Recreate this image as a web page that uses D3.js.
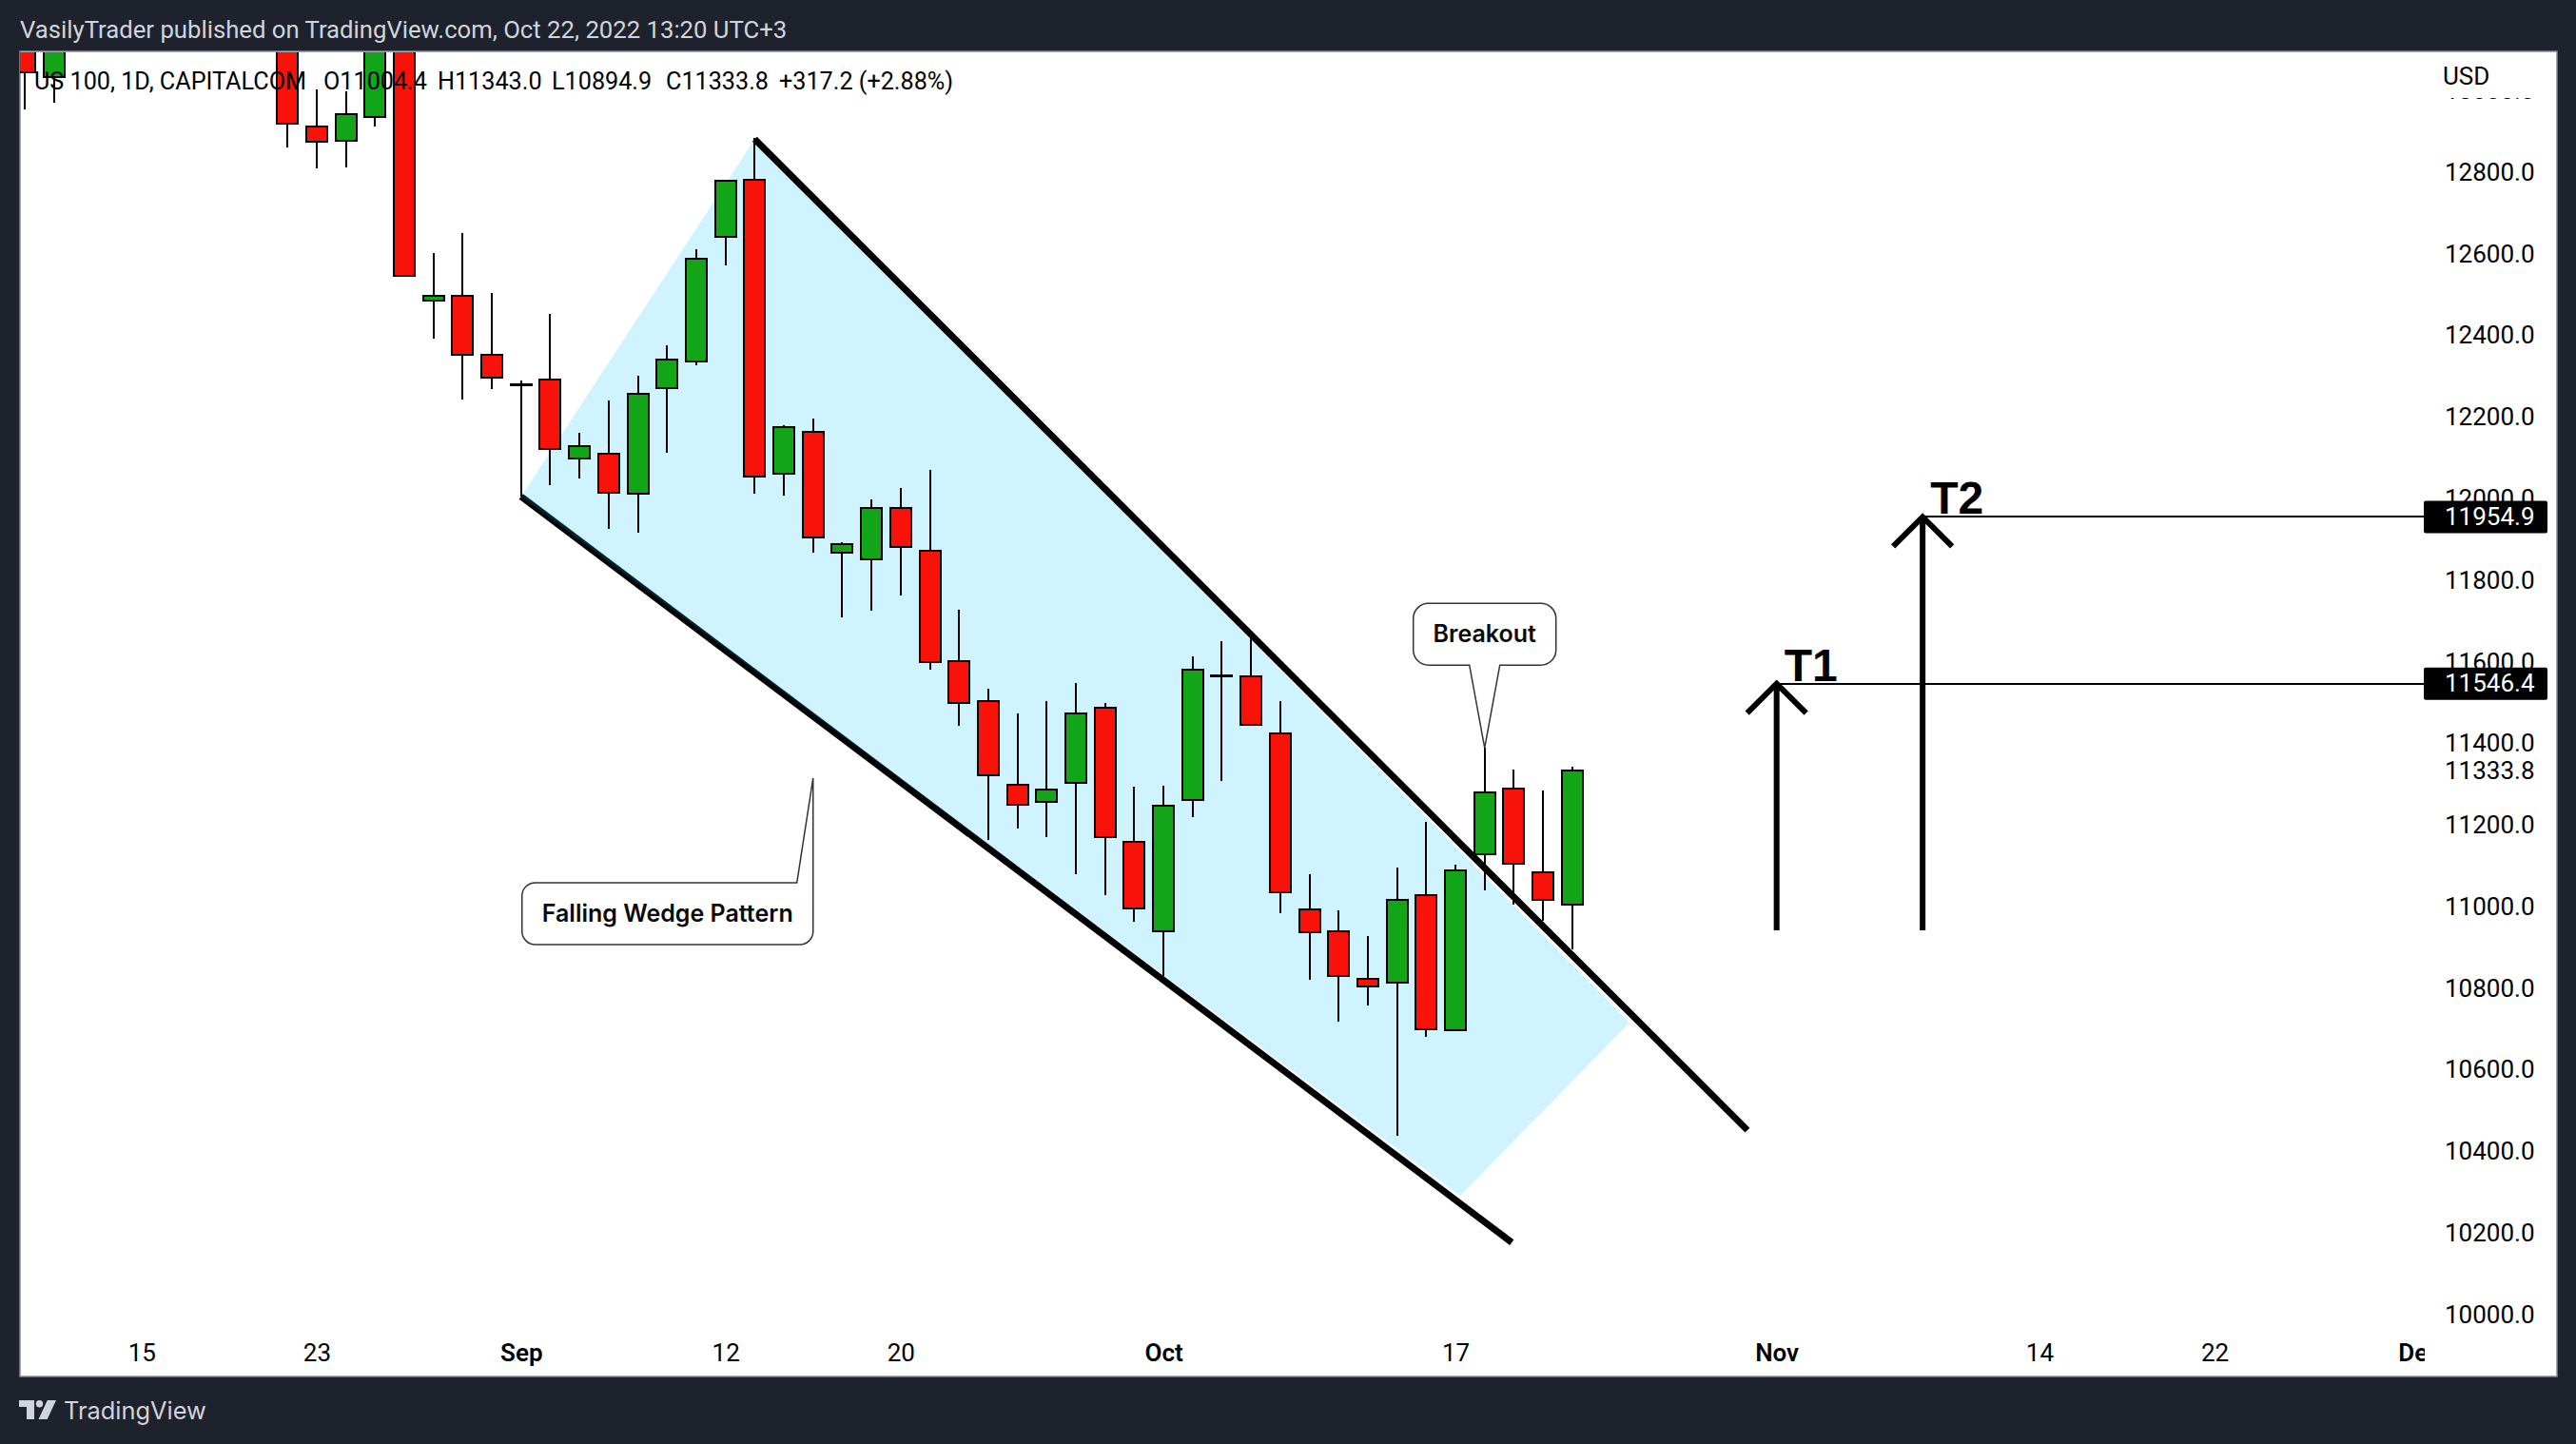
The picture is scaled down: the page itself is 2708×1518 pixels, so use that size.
<!DOCTYPE html>
<html>
<head>
<meta charset="utf-8">
<script src="https://d3js.org/d3.v7.min.js"></script>
<style>
  html, body { margin: 0; padding: 0; background: #1e222d; }
  svg { display: block; }
  text { font-family: Roboto, sans-serif; }
</style>
</head>
<body>
<svg id="chart" width="2708" height="1518"></svg>
<script>
// daily bars, index counted in trading days from Sep 1 (bars above the chart top are left out)
const barIdx = [-17, -16, -8, -7, -6, -5, -4, -3, -2, -1, 0, 1, 2, 3, 4, 5, 6, 7, 8, 9, 10, 11, 12, 13, 14, 15, 16, 17, 18, 19, 20, 21, 22, 23, 24, 25, 26, 27, 28, 29, 30, 31, 32, 33, 34, 35, 36];
const opens = [13250, 13033, 13200, 12911, 12876, 12935, 13200, 12485, 12497, 12352, 12280, 12291, 12098, 12110, 12012, 12270, 12336, 12641, 12781, 12061, 12163, 11867, 11851, 11977, 11872, 11601, 11503, 11298, 11256, 11303, 11487, 11159, 10939, 11261, 11566, 11564, 11424, 10993, 10939, 10823, 10814, 11028, 10697, 11128, 11289, 11084, 11004.4];
const highs = [13300, 13300, 13250, 13002, 12998, 13300, 13250, 12601, 12650, 12503, 12289, 12452, 12161, 12240, 12301, 12375, 12611, 12781, 12883, 12180, 12196, 11893, 11998, 12026, 12070, 11727, 11534, 11473, 11503, 11548, 11499, 11294, 11296, 11613, 11650, 11657, 11503, 11079, 10991, 10928, 11096, 11207, 11103, 11389, 11336, 11284, 11343];
const lows = [12953, 12970, 12860, 12809, 12811, 12911, 12545, 12392, 12242, 12268, 12005, 12033, 12049, 11925, 11916, 12112, 12326, 12571, 12012, 12007, 11867, 11709, 11725, 11762, 11580, 11443, 11163, 11191, 11170, 11079, 11028, 10963, 10830, 11219, 11308, 11445, 10984, 10821, 10718, 10758, 10438, 10681, 10697, 11040, 11005, 10965, 10894.9];
const closes = [13044, 13200, 12918, 12874, 12942, 13250, 12545, 12497, 12352, 12296, 12280, 12121, 12128, 12014, 12256, 12340, 12587, 12779, 12054, 12175, 11904, 11888, 11977, 11881, 11599, 11499, 11322, 11249, 11287, 11473, 11170, 10995, 11247, 11580, 11566, 11445, 11035, 10937, 10830, 10804, 11016, 10699, 11089, 11280, 11105, 11016, 11333.8];

const priceTicks = [13000, 12800, 12600, 12400, 12200, 12000, 11800, 11600, 11400, 11333.8, 11200, 11000, 10800, 10600, 10400, 10200, 10000];
const timeTicks = [-13, -7, 0, 7, 13, 22, 32, 43, 52, 58, 65];
const timeLabels = ["15", "23", "Sep", "12", "20", "Oct", "17", "Nov", "14", "22", "Dec"];
const monthLabels = ["Sep", "Oct", "Nov", "Dec"];

// drawings: [bar index, price]
const wedgeUpper = [[8, 12881], [42, 10452]];
const wedgeLower = [[0, 12005], [33.93, 10177]];
const wedgeFill = [[0, 12005], [8, 12881], [37.96, 10716], [32.16, 10291]];

const targetNames = ["T1", "T2"];
const targetIdx = [43, 48];
const targetPrices = [11546.4, 11954.9];
const targetBase = 10942;

const legendTexts = ["US 100, 1D, CAPITALCOM", "O11004.4", "H11343.0", "L10894.9", "C11333.8", "+317.2 (+2.88%)"];
const legendX = [36, 340, 460, 580, 700, 819];

const width = 2708, height = 1518;
const plot = { left: 21, right: 2688, top: 54, bottom: 1447, paneRight: 2548 };
const red = "#f8120a", green = "#12a518", frame = "#1e222d", frameText = "#d1d4dc";

const x = d3.scaleLinear().domain([0, 36]).range([547.8, 1652.8]);
const y = d3.scaleLinear().domain([10000, 12800]).range([1382, 181]);

const svg = d3.select("#chart");
const pt = (d) => [x(d[0]), y(d[1])];

svg.append("rect").attr("width", width).attr("height", height).attr("fill", frame);
svg.append("rect")
  .attr("x", plot.left)
  .attr("y", plot.top)
  .attr("width", plot.right - plot.left)
  .attr("height", plot.bottom - plot.top)
  .attr("fill", "#fff")
  .attr("stroke", "#868993")
  .attr("stroke-width", 1.5);

svg.append("clipPath").attr("id", "pane")
  .append("rect")
  .attr("x", plot.left)
  .attr("y", plot.top + 1)
  .attr("width", plot.paneRight - plot.left)
  .attr("height", plot.bottom - plot.top - 1);

const pane = svg.append("g").attr("clip-path", "url(#pane)");

// lower line sits under the see-through fill, that is where its teal edge comes from
pane.append("line")
  .attr("x1", x(wedgeLower[0][0])).attr("y1", y(wedgeLower[0][1]))
  .attr("x2", x(wedgeLower[1][0])).attr("y2", y(wedgeLower[1][1]))
  .attr("stroke", "#000")
  .attr("stroke-width", 7);

pane.append("polygon")
  .attr("points", wedgeFill.map(pt).map((p) => p.join(",")).join(" "))
  .attr("fill", "#00c3ff")
  .attr("fill-opacity", 0.185);

// candles
const bars = barIdx.map((idx, i) => ({ idx, o: opens[i], h: highs[i], l: lows[i], c: closes[i] }));
const candle = pane.selectAll("g.candle").data(bars).enter().append("g").attr("class", "candle");

candle.append("line")
  .attr("x1", (d) => Math.round(x(d.idx)))
  .attr("x2", (d) => Math.round(x(d.idx)))
  .attr("y1", (d) => y(d.h))
  .attr("y2", (d) => y(d.l))
  .attr("stroke", "#000")
  .attr("stroke-width", 2)
  .attr("shape-rendering", "crispEdges");

// flat bars still need a body, a zero height rect is not painted
candle.append("rect")
  .attr("x", (d) => Math.round(x(d.idx)) - 11)
  .attr("width", 22)
  .attr("y", (d) => y(Math.max(d.o, d.c)))
  .attr("height", (d) => Math.max(Math.abs(y(d.o) - y(d.c)), 0.5))
  .attr("fill", (d) => (d.c >= d.o ? green : red))
  .attr("stroke", "#000")
  .attr("stroke-width", 2)
  .attr("shape-rendering", "crispEdges");

pane.append("line")
  .attr("x1", x(wedgeUpper[0][0])).attr("y1", y(wedgeUpper[0][1]))
  .attr("x2", x(wedgeUpper[1][0])).attr("y2", y(wedgeUpper[1][1]))
  .attr("stroke", "#000")
  .attr("stroke-width", 7);

// target arrows
targetIdx.forEach((idx, i) => {
  const tx = x(idx), ty = y(targetPrices[i]);
  pane.append("line")
    .attr("x1", tx).attr("x2", plot.paneRight)
    .attr("y1", ty).attr("y2", ty)
    .attr("stroke", "#000")
    .attr("stroke-width", 2)
    .attr("shape-rendering", "crispEdges");
  pane.append("path")
    .attr("d", `M${tx},${y(targetBase)}V${ty + 1}M${tx - 31},${ty + 31}L${tx},${ty}L${tx + 31},${ty + 31}`)
    .attr("fill", "none")
    .attr("stroke", "#000")
    .attr("stroke-width", 6);
  pane.append("text")
    .attr("x", tx + 8)
    .attr("y", ty - 3)
    .text(targetNames[i])
    .style("font-family", "'Liberation Sans', sans-serif")
    .style("font-weight", 700)
    .style("font-size", "48px")
    .style("fill", "#000");
});

// callouts
const addCallout = (d, label, lx, ly) => {
  pane.append("path")
    .attr("d", d)
    .attr("fill", "#fff")
    .attr("stroke", "#333")
    .attr("stroke-width", 1.5);
  pane.append("text")
    .attr("x", lx)
    .attr("y", ly)
    .attr("text-anchor", "middle")
    .text(label)
    .style("font-family", "Inter, sans-serif")
    .style("font-weight", 600)
    .style("font-size", "25px")
    .style("fill", "#0a0a0a");
};

const bx = x(33), by = y(11389);
addCallout(
  `M${bx - 59},${by - 152}H${bx + 59}a16,16 0 0 1 16,16V${by - 103}a16,16 0 0 1 -16,16H${bx + 16}L${bx},${by}L${bx - 16},${by - 87}H${bx - 59}a16,16 0 0 1 -16,-16V${by - 136}a16,16 0 0 1 16,-16Z`,
  "Breakout", bx, by - 111
);

const wx = x(10), wy = y(11315);
addCallout(
  `M${wx},${wy}V${wy + 161}a14,14 0 0 1 -14,14H${wx - 292}a14,14 0 0 1 -14,-14V${wy + 124}a14,14 0 0 1 14,-14H${wx - 17}Z`,
  "Falling Wedge Pattern", wx - 153, wy + 151
);

// price axis
const priceAxis = d3.axisRight(y)
  .tickValues(priceTicks)
  .tickSize(0)
  .tickPadding(0)
  .tickFormat(d3.format(".1f"));

const gPrice = svg.append("g").attr("transform", "translate(2570,0)").call(priceAxis);
gPrice.select(".domain").remove();
gPrice.selectAll("text")
  .style("font-size", "26px")
  .style("fill", "#000");

// top of the scale is hidden behind the currency cell
svg.append("rect")
  .attr("x", plot.paneRight + 2).attr("y", plot.top + 1)
  .attr("width", plot.right - plot.paneRight - 3).attr("height", 48)
  .attr("fill", "#fff");
svg.append("text")
  .attr("x", 2568).attr("y", 89)
  .text("USD")
  .style("font-size", "26px")
  .style("fill", "#000");

// price tags for the targets
targetPrices.forEach((p) => {
  svg.append("rect")
    .attr("x", plot.paneRight)
    .attr("y", y(p) - 17)
    .attr("width", 130)
    .attr("height", 34)
    .attr("rx", 2)
    .attr("fill", "#000");
  svg.append("text")
    .attr("x", 2570)
    .attr("y", y(p))
    .attr("dy", "0.32em")
    .text(d3.format(".1f")(p))
    .style("font-size", "26px")
    .style("fill", "#fff");
});

// time axis
const timeAxis = d3.axisBottom(x)
  .tickValues(timeTicks)
  .tickSize(0)
  .tickPadding(0)
  .tickFormat((d, i) => timeLabels[i]);

const gTime = svg.append("g")
  .attr("transform", "translate(0,1413)")
  .call(timeAxis);
gTime.select(".domain").remove();
gTime.selectAll("text")
  .style("font-size", "26px")
  .style("font-weight", (d, i) => (monthLabels.includes(timeLabels[i]) ? 600 : 400))
  .style("fill", "#000");
// last label runs under the price pane
svg.append("rect")
  .attr("x", plot.paneRight + 1).attr("y", 1395)
  .attr("width", plot.right - plot.paneRight - 2).attr("height", 50)
  .attr("fill", "#fff");

// legend and frame texts
svg.selectAll("text.legend").data(legendTexts).enter().append("text")
  .attr("class", "legend")
  .attr("x", (d, i) => legendX[i])
  .attr("y", 94)
  .text((d) => d)
  .style("font-size", "25.2px")
  .style("fill", "#000");

svg.append("text")
  .attr("x", 21).attr("y", 40)
  .text("VasilyTrader published on TradingView.com, Oct 22, 2022 13:20 UTC+3")
  .style("font-size", "25.7px")
  .style("fill", frameText);

// logo
svg.append("path")
  .attr("d", "M20,1472H36V1492H28V1479H20ZM59,1472L49.7,1492H40.5L49.8,1472Z")
  .attr("fill", frameText);
svg.append("circle").attr("cx", 41.5).attr("cy", 1475.7).attr("r", 3.7).attr("fill", frameText);
svg.append("text")
  .attr("x", 67).attr("y", 1492)
  .text("TradingView")
  .style("font-family", "Inter, sans-serif")
  .style("font-size", "25.4px")
  .style("fill", frameText);
</script>
</body>
</html>
